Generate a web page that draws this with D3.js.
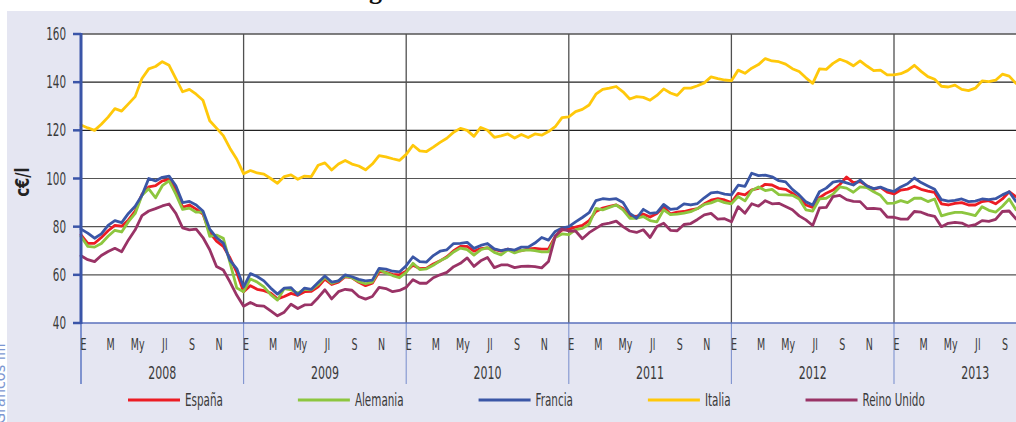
<!DOCTYPE html>
<html>
<head>
<meta charset="utf-8">
<script src="https://cdn.jsdelivr.net/npm/d3@7/dist/d3.min.js"></script>
<style>
  html, body { margin: 0; padding: 0; background: #ffffff; }
  svg { display: block; }
  .cond { font-family: "Liberation Sans Narrow", "DejaVu Sans Condensed", "Arial Narrow", sans-serif; font-stretch: condensed; fill: #3a3a3a; }
</style>
</head>
<body>
<svg id="chart" width="1016" height="422"></svg>
<script>
// Fuel prices by country, c€/l, sampled twice a month from January 2008.
const years = [2008, 2009, 2010, 2011, 2012, 2013];
const monthAbbr = ["E", "", "M", "", "My", "", "Jl", "", "S", "", "N", ""];
const yTicks = [40, 60, 80, 100, 120, 140, 160];
const seriesNames = ["España", "Alemania", "Francia", "Italia", "Reino Unido"];
const seriesColors = ["#ec1c24", "#8dc63f", "#3a56a6", "#ffc80a", "#993366"];
const samplesPerMonth = 2;

const espana = [
  76.6, 73.1, 73.1, 75.5, 78.3, 80.5, 80.2, 82.8, 86.5, 93.5, 96.5, 97, 99, 99.5, 95.5, 88, 89, 87.3, 85.2, 77.5, 74, 71.8, 67, 61, 53, 55.5, 54, 53.4,
  52.4, 50, 51, 52.3, 51.5, 53, 53.1, 55, 58.2, 56, 57, 59.2, 58.8, 56.9, 55.5, 56.5, 61.3, 61, 60.2, 60, 61.5, 64, 62.6, 62.8, 64.5, 65.8, 67.5, 70,
  71.8, 71.8, 69.8, 70.9, 71.2, 70.6, 69.8, 70.7, 70, 70, 70.8, 71, 70.7, 70.7, 76, 78.6, 79, 79.8, 80.5, 82.5, 86.3, 87.7, 88.4, 89, 87.5, 84.5,
  84.3, 85.2, 84, 85.5, 88.2, 85.3, 86, 86.3, 87, 87.5, 89.5, 91, 91.6, 91.1, 90, 93.8, 93.2, 95.3, 95.9, 97.6, 97.3, 95.9, 95.5, 93.9, 91.8, 89,
  88, 92, 93.9, 95.2, 97.5, 100.6, 98.3, 98.7, 97, 95.5, 96.3, 94.3, 93.6, 95.2, 95.6, 96.8, 95.5, 94.8, 94.2, 89.5, 89, 89.7, 90, 89, 89, 90.4, 90.8, 89.5, 91.5, 94.5, 92.5
];
const alemania = [
  75.9, 71.8, 71.5, 73, 76, 78.5, 77.8, 82.1, 85.5, 93, 95.7, 92, 97, 99, 93.5, 87.2, 87.7, 86, 86, 76, 76.5, 75.2, 65, 54.5, 53, 58.3, 57, 55,
  51.8, 49.5, 54.3, 53.8, 52.4, 54, 53.8, 56, 59, 56.5, 57.5, 59.5, 58.8, 57.2, 56.3, 57, 62.2, 60.8, 59.7, 58.8, 61, 64.8, 62.2, 62.5, 64, 65.8, 67.2, 69.5,
  71.1, 70.5, 68.2, 70.4, 71.3, 69.3, 68.3, 70.4, 69.1, 70.1, 70.4, 70.1, 69.5, 69.5, 75.5, 77, 76.7, 78.8, 79.3, 81, 87.6, 87, 88, 89, 87, 83.5,
  83.5, 84.2, 82.5, 82, 87, 85, 85.2, 85.6, 86.2, 87.5, 89.2, 89.9, 91, 90, 89.5, 92.5, 90.7, 95, 96.5, 95, 95.5, 93.3, 93.2, 93, 91.5, 87,
  86.5, 91.5, 91.8, 93.5, 96.5, 96, 94.3, 96.5, 96.2, 94.5, 93, 89.7, 89.8, 90.8, 90, 91.8, 91.8, 90.4, 91.5, 84.5, 85.3, 85.9, 85.9, 85.3, 84.6, 88.3, 86.8, 86, 88.5, 91.5, 87
];
const francia = [
  79, 77.3, 75.2, 77, 80.5, 82.5, 81.7, 85.5, 88.5, 93, 100, 99, 100.5, 101, 97, 90, 90.5, 89, 86.5, 79, 75.5, 73.2, 66, 62.5, 55, 60.5, 59.3, 57.5,
  54.5, 52, 54.5, 54.7, 51.7, 54.5, 54, 56.8, 59.5, 57, 57.5, 60, 59.2, 58.1, 57.5, 57.8, 62.7, 62.4, 61.5, 61.2, 63.8, 67.5, 65.5, 65.3, 68, 69.8, 70.4, 73,
  73.1, 73.5, 71, 72.2, 73, 70.8, 70.1, 70.7, 70.3, 71.5, 71.5, 73.2, 75.5, 74.4, 78, 79.4, 80, 82, 83.8, 85.8, 90.8, 91.6, 91.3, 91.6, 90, 85.5,
  83.5, 87.2, 85.5, 85.8, 89.2, 87.2, 87.5, 89.5, 89, 89.6, 92, 94, 94.3, 93.5, 93.2, 97.2, 96.7, 102.2, 101.2, 101.4, 100.7, 99.1, 98.6, 95.5, 93.2, 90.3,
  89, 94.5, 96, 98.5, 99, 98.2, 97.3, 99.3, 96.9, 95.8, 96.4, 95.3, 94.6, 96.5, 97.8, 100.2, 98.3, 96.9, 95.5, 91.2, 90.6, 90.9, 91.5, 90.4, 90.6, 91.5, 91.2, 91.6, 93.2, 94.5, 90.5
];
const italia = [
  122.2, 121, 120, 122.5, 125.5, 129, 128, 131, 134, 141.5, 145.5, 146.5, 148.5, 147, 141.5, 136, 137, 135, 132.5, 124, 120.9, 117.8, 112.5, 108, 102, 103.3, 102.3, 101.8,
  100, 98, 100.8, 101.5, 99.7, 101, 100.8, 105.5, 106.5, 103.5, 106, 107.5, 106, 105.2, 103.6, 106, 109.5, 109, 108.2, 107.5, 110, 113.8, 111.5, 111.2, 113, 115, 116.7, 119.2,
  120.8, 120, 117.5, 121.2, 120, 117.1, 117.7, 118.5, 116.8, 118.3, 117, 118.5, 118, 119.5, 121.5, 125.3, 125.6, 127.8, 128.7, 130.5, 135, 137, 137.5, 138.2, 136, 133,
  134, 133.7, 132.5, 134.5, 137.2, 135.5, 134.5, 137.5, 137.5, 138.5, 139.7, 142.2, 141.5, 140.9, 140.6, 145, 143.7, 145.8, 147.3, 149.8, 148.8, 148.5, 147.5, 145.6, 144.4, 141.8,
  139.5, 145.5, 145.3, 147.8, 149.5, 148.5, 146.8, 148.8, 146.7, 144.8, 145, 143, 143, 143.5, 144.8, 147, 144.5, 142.3, 141.2, 138.3, 138, 138.8, 137, 136.5, 137.5, 140.5, 140.2, 140.8, 143.3, 142.5, 139.5
];
const reinoUnido = [
  67.9, 66.3, 65.5, 68, 69.7, 71, 69.6, 74.5, 78.7, 84.6, 86.5, 87.5, 88.6, 89.4, 85.5, 79.5, 78.7, 79, 75.5, 70.4, 63.5, 62, 57, 51.5, 47, 48.5, 47.2, 47,
  45, 43, 44.5, 47.8, 46, 47.5, 47.6, 50.5, 53.8, 50, 53, 54, 53.6, 51, 49.9, 51, 54.8, 54.3, 53, 53.5, 54.8, 58, 56.5, 56.5, 58.8, 60, 61, 63.4,
  64.8, 67, 63.5, 65.8, 67.2, 63, 64.1, 64.1, 63, 63.5, 63.6, 63.4, 62.9, 65.5, 76, 79, 78.2, 78.2, 75, 77.5, 79.3, 81, 81.5, 82.3, 80, 78.2,
  77.6, 78.7, 75.5, 80.1, 81.4, 78.5, 78.3, 80.9, 81.3, 83, 84.9, 85.5, 83.1, 83.3, 82, 88.3, 85.6, 89.5, 88.5, 90.8, 89.5, 89.7, 88.4, 87, 84.5, 82.8,
  80.5, 87.8, 88, 92.5, 93, 91.2, 90.5, 90.4, 87.5, 87.6, 87.3, 84, 83.9, 83.1, 83.1, 86.3, 86, 84.9, 84.3, 80, 81.4, 81.8, 81.5, 80.2, 80.8, 82.5, 82.2, 83, 86.3, 86.5, 83.2
];
const seriesValues = [espana, alemania, francia, italia, reinoUnido];

const svg = d3.select("#chart");
const W = 1016, H = 422;
const plot = { left: 81, top: 34, bottom: 323 };
const monthW = 13.55;

// Month-based horizontal scale (0 = January 2008)
const x = d3.scaleLinear().domain([0, years.length * 12]).range([plot.left, plot.left + years.length * 12 * monthW]);
const y = d3.scaleLinear().domain([40, 160]).range([plot.bottom, plot.top]);

// Panel background
svg.append("rect").attr("x", 7).attr("y", 11).attr("width", W - 7).attr("height", H - 11).attr("fill", "#e5e6f2");
svg.append("rect").attr("x", plot.left).attr("y", plot.top).attr("width", W - plot.left).attr("height", plot.bottom - plot.top).attr("fill", "#ffffff");

// Title remnant and side note, cut by the page edges
svg.append("text").attr("x", 369).attr("y", -1)
  .attr("font-family", "Liberation Serif, DejaVu Serif, serif").attr("font-weight", "bold").attr("font-size", 26)
  .attr("fill", "#111").text("g");
svg.append("text").attr("transform", "translate(5,424) rotate(-90)")
  .attr("class", "cond").attr("font-size", 16).style("fill", "#7d97d2").text("Gráficos IIII");

// Horizontal gridlines
svg.append("g").selectAll("line").data(yTicks.filter(d => d > 40)).join("line")
  .attr("x1", plot.left).attr("x2", W).attr("y1", d => y(d)).attr("y2", d => y(d))
  .attr("stroke", d => (d === 120 || d === 140) ? "#222" : "#555").attr("stroke-width", d => d === 160 ? 1.4 : 1.2);

// Year separators inside the plot
svg.append("g").selectAll("line").data(years.slice(1)).join("line")
  .attr("x1", (d, i) => x((i + 1) * 12)).attr("x2", (d, i) => x((i + 1) * 12))
  .attr("y1", plot.top).attr("y2", plot.bottom)
  .attr("stroke", "#505050").attr("stroke-width", 1.3);

// Year separators through the category axis
svg.append("g").selectAll("line").data(years).join("line")
  .attr("x1", (d, i) => x(i * 12)).attr("x2", (d, i) => x(i * 12))
  .attr("y1", plot.bottom).attr("y2", 384)
  .attr("stroke", "#7f93cf").attr("stroke-width", (d, i) => i === 0 ? 2 : 1.1);

// Bottom axis line
svg.append("line").attr("x1", plot.left).attr("x2", W).attr("y1", plot.bottom).attr("y2", plot.bottom)
  .attr("stroke", "#5a70bd").attr("stroke-width", 1.5);

// Series lines
const line = d3.line().x((d, i) => x(i / samplesPerMonth)).y(d => y(d));
svg.append("g").selectAll("path").data(seriesValues).join("path")
  .attr("d", d => line(d))
  .attr("fill", "none")
  .attr("stroke", (d, i) => seriesColors[i])
  .attr("stroke-width", 2.8)
  .attr("stroke-linejoin", "round")
  .attr("stroke-linecap", "round");

// Vertical value axis
svg.append("line").attr("x1", plot.left).attr("x2", plot.left).attr("y1", plot.top - 1).attr("y2", plot.bottom + 1)
  .attr("stroke", "#3a55a8").attr("stroke-width", 3);
svg.append("g").selectAll("line").data(yTicks).join("line")
  .attr("x1", 73).attr("x2", plot.left).attr("y1", d => y(d)).attr("y2", d => y(d))
  .attr("stroke", "#3a55a8").attr("stroke-width", 2.5);

// Horizontally condensed label helper
const sx = 0.68;
function label(parent, tx, ty, txt, size, anchor) {
  const g = parent.append("g").attr("transform", `translate(${tx},${ty}) scale(${sx},1)`);
  return g.append("text").attr("class", "cond").attr("font-size", size).attr("text-anchor", anchor || "middle").text(txt);
}

const labels = svg.append("g");
yTicks.forEach(v => label(labels, 66, y(v) + 6, String(v), 17, "end"));

// Month and year labels
years.forEach((yr, yi) => {
  monthAbbr.forEach((m, mi) => {
    if (!m) return;
    const px = x(yi * 12 + mi) + 2.5;
    if (px < W - 2) label(labels, px, 350, m, 15.5, "middle");
  });
  label(labels, x(yi * 12 + 6), 379, String(yr), 18, "middle");
});

// Unit label
svg.append("g").attr("transform", "translate(29,182) rotate(-90) scale(0.85,1)")
  .append("text").attr("text-anchor", "middle")
  .attr("font-family", "DejaVu Sans Condensed, DejaVu Sans, sans-serif").attr("font-weight", "bold")
  .attr("font-size", 19).attr("fill", "#222").text("c€/l");

// Legend laid out left to right
const legend = svg.append("g");
let lx = 128;
seriesNames.forEach((name, i) => {
  legend.append("line").attr("x1", lx).attr("x2", lx + 52).attr("y1", 400).attr("y2", 400)
    .attr("stroke", seriesColors[i]).attr("stroke-width", 3);
  const t = label(legend, lx + 57, 406, name, 17, "start");
  const w = t.node().getComputedTextLength() * sx;
  lx += 57 + w + 75;
});
</script>
</body>
</html>
